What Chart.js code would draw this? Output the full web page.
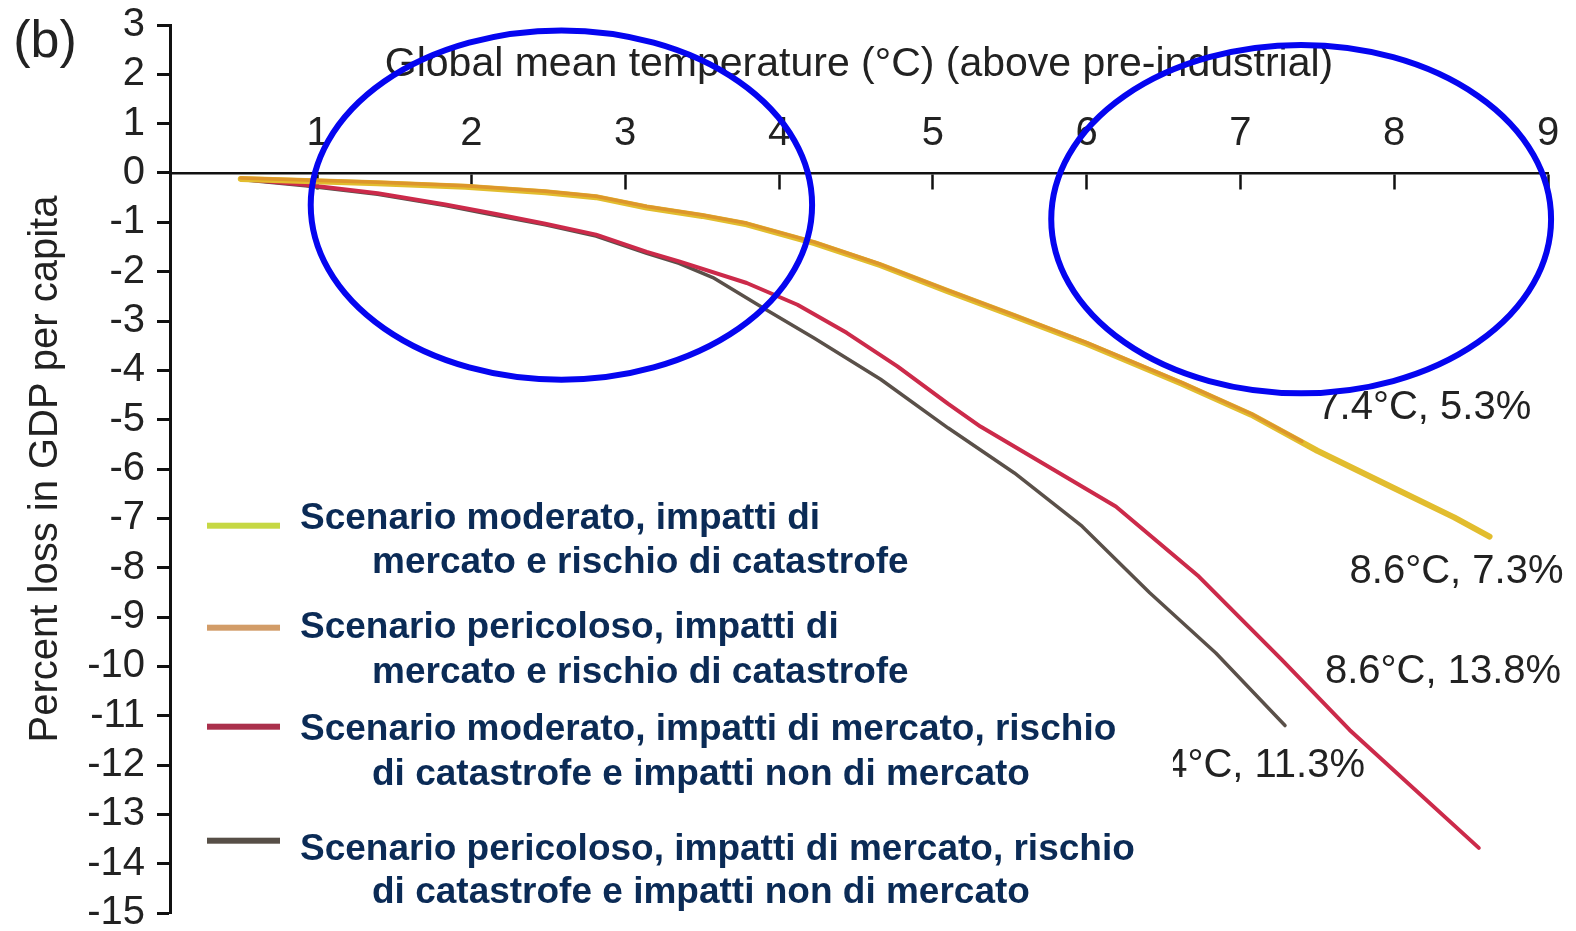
<!DOCTYPE html>
<html>
<head>
<meta charset="utf-8">
<script src="https://cdn.jsdelivr.net/npm/chart.js@4.4.1/dist/chart.umd.min.js"></script>
<style>
  html, body { margin: 0; padding: 0; background: #ffffff; }
  #wrap { position: relative; width: 1576px; height: 931px; }
</style>
</head>
<body>
<div id="wrap"><canvas id="c" width="1576" height="931"></canvas></div>
<script>
// ---------------- DATA ----------------
const xTickValues = [1, 2, 3, 4, 5, 6, 7, 8, 9];
const yTickValues = [3, 2, 1, 0, -1, -2, -3, -4, -5, -6, -7, -8, -9, -10, -11, -12, -13, -14, -15];

const xAxisTitle = 'Global mean temperature (°C) (above pre-industrial)';
const yAxisTitle = 'Percent loss in GDP per capita';
const panelLabel = '(b)';

const seriesLabels = [
  ['Scenario moderato, impatti di', 'mercato e rischio di catastrofe'],
  ['Scenario pericoloso, impatti di', 'mercato e rischio di catastrofe'],
  ['Scenario moderato, impatti di mercato, rischio', 'di catastrofe e impatti non di mercato'],
  ['Scenario pericoloso, impatti di mercato, rischio', 'di catastrofe e impatti non di mercato']
];

// Scenario moderato – mercato + catastrofe
const tempModMkt = [0.5, 0.92, 1.39, 1.96, 2.48, 2.81, 3.14, 3.50, 3.79, 4.23, 4.66, 5.10, 5.53, 6.00, 6.62, 7.07, 7.50, 7.94, 8.39, 8.62];
const lossModMkt = [-0.12, -0.16, -0.21, -0.28, -0.39, -0.49, -0.70, -0.87, -1.04, -1.42, -1.87, -2.40, -2.90, -3.46, -4.27, -4.90, -5.63, -6.30, -6.98, -7.37];

// Scenario pericoloso – mercato + catastrofe
const tempPerMkt = [0.5, 0.92, 1.39, 1.96, 2.48, 2.81, 3.14, 3.50, 3.79, 4.23, 4.66, 5.10, 5.53, 6.00, 6.62, 7.07, 7.40];
const lossPerMkt = [-0.10, -0.14, -0.19, -0.26, -0.37, -0.47, -0.68, -0.85, -1.02, -1.40, -1.85, -2.38, -2.88, -3.44, -4.25, -4.88, -5.44];

// Scenario moderato – mercato + catastrofe + non di mercato
const tempModAll = [0.5, 0.92, 1.39, 1.83, 2.16, 2.48, 2.81, 3.14, 3.35, 3.79, 4.12, 4.44, 4.77, 5.10, 5.31, 5.75, 6.19, 6.73, 7.27, 7.71, 8.55];
const lossModAll = [-0.12, -0.24, -0.41, -0.64, -0.83, -1.03, -1.25, -1.60, -1.79, -2.23, -2.67, -3.24, -3.92, -4.68, -5.14, -5.95, -6.76, -8.18, -9.87, -11.29, -13.68];

// Scenario pericoloso – mercato + catastrofe + non di mercato
const tempPerAll = [0.5, 0.92, 1.39, 1.83, 2.16, 2.48, 2.81, 3.14, 3.35, 3.57, 3.90, 4.23, 4.66, 5.10, 5.53, 5.97, 6.41, 6.84, 7.29];
const lossPerAll = [-0.13, -0.26, -0.43, -0.66, -0.86, -1.05, -1.28, -1.63, -1.83, -2.12, -2.74, -3.35, -4.18, -5.17, -6.08, -7.16, -8.51, -9.73, -11.20];

const endLabels = ['7.4°C, 5.3%', '8.6°C, 7.3%', '8.6°C, 13.8%', '7.4°C, 11.3%'];

// ---------------- BUILD ----------------
const FONT = '"Liberation Sans", Arial, Helvetica, sans-serif';
const toPoints = (xs, ys) => xs.map((v, i) => ({ x: v, y: ys[i] }));

const datasets = [
  { label: seriesLabels[0].join(' '), data: toPoints(tempModMkt, lossModMkt), borderColor: '#e2bd2e', borderWidth: 6, order: 1 },
  { label: seriesLabels[1].join(' '), data: toPoints(tempPerMkt, lossPerMkt), borderColor: '#dd962c', borderWidth: 3.5, order: 0 },
  { label: seriesLabels[2].join(' '), data: toPoints(tempModAll, lossModAll), borderColor: '#cc2a4a', borderWidth: 4, order: 2 },
  { label: seriesLabels[3].join(' '), data: toPoints(tempPerAll, lossPerAll), borderColor: '#5a5049', borderWidth: 3.5, order: 3 }
].map(d => Object.assign(d, { pointRadius: 0, tension: 0, fill: false, borderCapStyle: 'round', borderJoinStyle: 'round' }));

const overlayPlugin = {
  id: 'overlay',
  afterDraw(chart, args, opts) {
    const { ctx } = chart;
    const xs = chart.scales.x, ys = chart.scales.y;
    ctx.save();

    // panel label
    ctx.fillStyle = '#222222';
    ctx.font = '52px ' + FONT;
    ctx.textAlign = 'center';
    ctx.textBaseline = 'middle';
    ctx.fillText(panelLabel, opts.panel.x, opts.panel.y);

    // end-point labels
    ctx.font = '40px ' + FONT;
    endLabels.forEach((t, i) => {
      const p = opts.endLabelPos[i];
      ctx.textAlign = p.align;
      ctx.fillText(t, xs.getPixelForValue(p.x), ys.getPixelForValue(p.y));
    });

    // legend background patch
    const b = opts.legend.box;
    ctx.fillStyle = '#ffffff';
    ctx.fillRect(b.x, b.y, b.w, b.h);

    // legend entries
    const L = opts.legend;
    ctx.textAlign = 'left';
    ctx.textBaseline = 'alphabetic';
    ctx.font = 'bold 37px ' + FONT;
    seriesLabels.forEach((lines, i) => {
      const e = L.entries[i];
      ctx.fillStyle = L.swatchColors[i];
      ctx.fillRect(L.swatchX, e.sy - 3, L.swatchW, 6);
      ctx.fillStyle = '#0b2b56';
      ctx.fillText(lines[0], L.textX, e.b1);
      ctx.fillText(lines[1], L.indentX, e.b2);
    });

    // blue ellipses
    ctx.strokeStyle = '#0505f0';
    ctx.lineWidth = 6;
    opts.ellipses.forEach(el => {
      const cx = xs.getPixelForValue(el.x), cy = ys.getPixelForValue(el.y);
      const rx = Math.abs(xs.getPixelForValue(el.x + el.rx) - cx);
      const ry = Math.abs(ys.getPixelForValue(el.y + el.ry) - cy);
      ctx.beginPath();
      ctx.ellipse(cx, cy, rx, ry, 0, 0, Math.PI * 2);
      ctx.stroke();
    });
    ctx.restore();
  }
};

new Chart(document.getElementById('c'), {
  type: 'line',
  data: { datasets },
  plugins: [overlayPlugin],
  options: {
    responsive: false,
    animation: false,
    events: [],
    layout: { padding: { top: 25, bottom: 18, left: 0, right: 28 } },
    plugins: {
      legend: { display: false },
      tooltip: { enabled: false },
      overlay: {
        panel: { x: 45, y: 43 },
        endLabelPos: [
          { x: 7.50, y: -4.77, align: 'left' },
          { x: 7.71, y: -8.09, align: 'left' },
          { x: 7.55, y: -10.12, align: 'left' },
          { x: 7.81, y: -12.02, align: 'right' }
        ],
        legend: {
          box: { x: 285, y: 695, w: 888, h: 105 },
          swatchX: 207, swatchW: 73, textX: 300, indentX: 372,
          swatchColors: ['#c6d844', '#d29c68', '#aa304c', '#574f47'],
          entries: [
            { sy: 525.7, b1: 529, b2: 573 },
            { sy: 627.7, b1: 638, b2: 683 },
            { sy: 726.7, b1: 740, b2: 785 },
            { sy: 840.7, b1: 860, b2: 903 }
          ]
        },
        ellipses: [
          { x: 2.585, y: -0.65, rx: 1.63, ry: 3.54 },
          { x: 7.395, y: -0.935, rx: 1.625, ry: 3.53 }
        ]
      }
    },
    scales: {
      x: {
        type: 'linear',
        position: { y: 0 },
        min: 0.04,
        max: 9,
        afterBuildTicks: s => { s.ticks = xTickValues.map(v => ({ value: v })); },
        afterFit: s => { s.height = 0; s.paddingLeft = 0; s.paddingRight = 0; },
        grid: { drawOnChartArea: false, tickLength: 15, tickWidth: 2.5, tickColor: '#111111' },
        border: { color: '#111111', width: 2.5 },
        ticks: { padding: -78, maxRotation: 0, minRotation: 0, autoSkip: false, color: '#222222',
                 font: { family: FONT, size: 40 }, callback: v => String(v) },
        title: { display: true, text: xAxisTitle, color: '#222222', font: { family: FONT, size: 41 },
                 padding: { top: 0, bottom: 84 } }
      },
      y: {
        type: 'linear',
        position: 'left',
        min: -15,
        max: 3,
        afterBuildTicks: s => { s.ticks = yTickValues.map(v => ({ value: v })); },
        afterFit: s => { s.width = 170; s.paddingTop = 0; s.paddingBottom = 0; },
        grid: { drawOnChartArea: false, tickLength: 13, tickWidth: 3, tickColor: '#111111' },
        border: { color: '#111111', width: 3 },
        ticks: { padding: 12, autoSkip: false, color: '#222222', font: { family: FONT, size: 40 },
                 callback: v => String(v) },
        title: { display: true, text: yAxisTitle, color: '#222222', font: { family: FONT, size: 40 },
                 padding: { top: 22, bottom: 0 } }
      }
    }
  }
});
</script>
</body>
</html>
